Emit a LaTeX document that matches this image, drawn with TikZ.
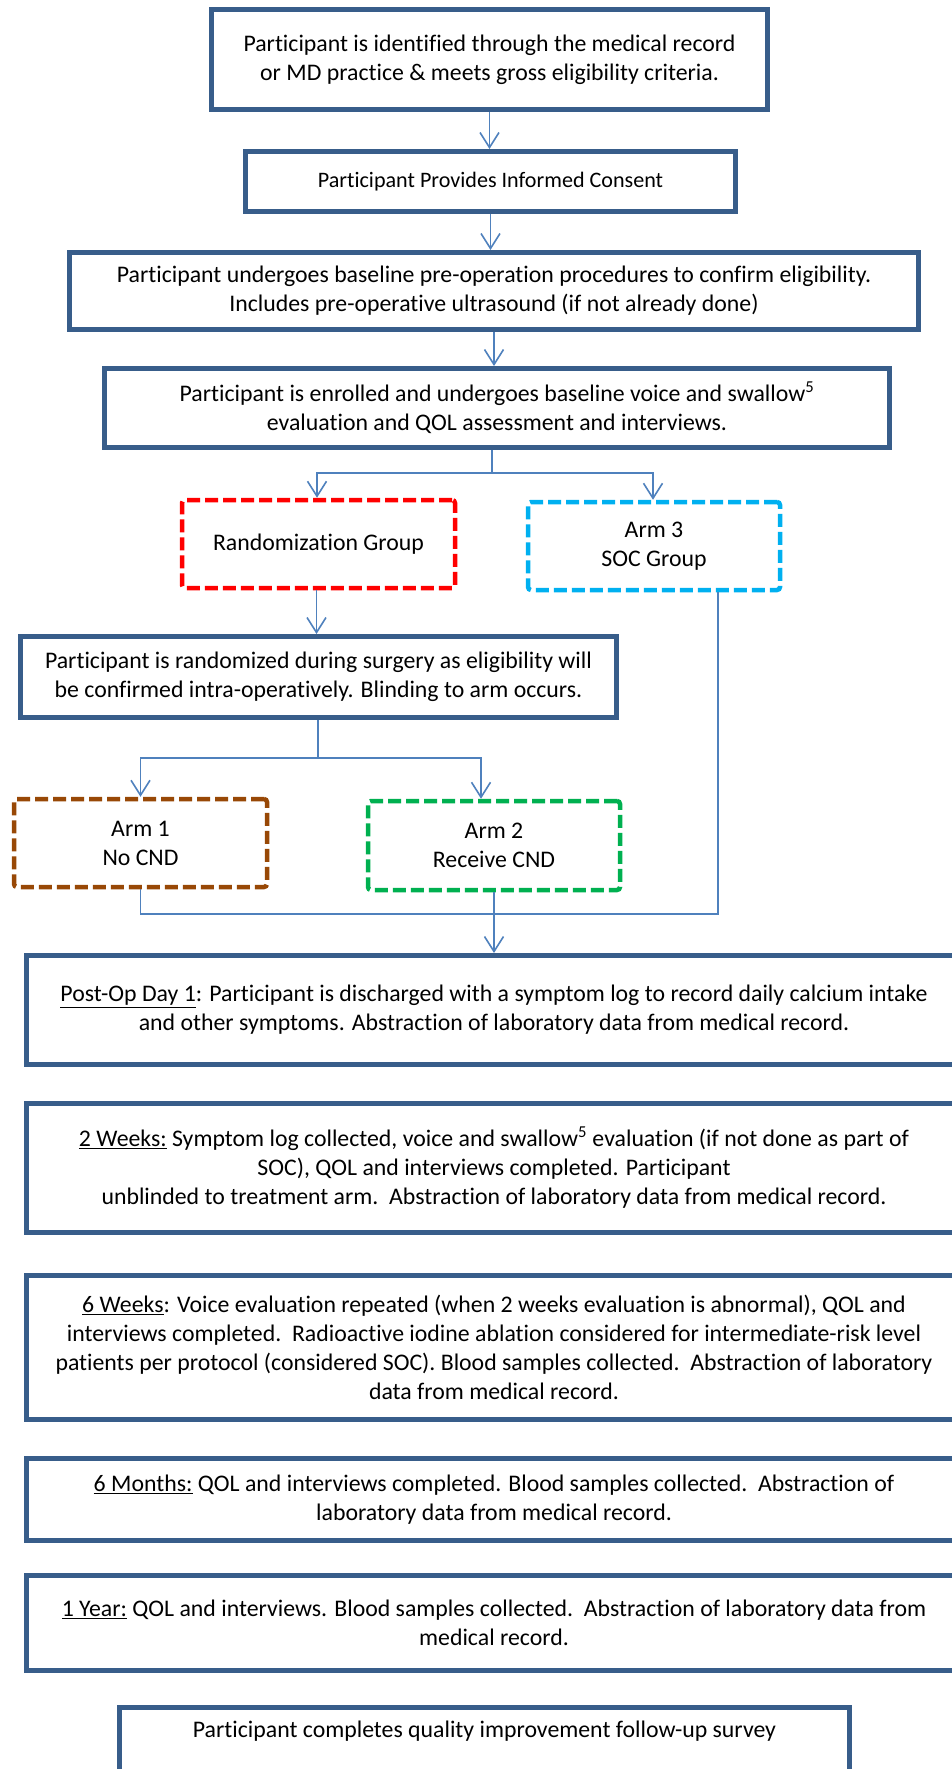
\documentclass[tikz,border=0pt]{standalone}
\usepackage{fontspec}
\setmainfont{Carlito}[Ligatures={NoCommon}]
\usetikzlibrary{arrows.meta,calc}
\definecolor{boxblue}{HTML}{385D8A}
\definecolor{linkblue}{HTML}{4F81BD}
\definecolor{dred}{HTML}{FF0000}
\definecolor{dcyan}{HTML}{00B0F0}
\definecolor{dgreen}{HTML}{00B050}
\definecolor{dbrown}{HTML}{984806}
\tikzset{
  bluebox/.style={draw=boxblue, line width=5pt, align=center, inner sep=0pt, fill=white,
    font=\fontsize{23.8}{29}\selectfont},
  dashbox/.style={line width=4.5pt, dash pattern=on 13pt off 5pt, rounded corners=3pt,
    align=center, inner sep=0pt, font=\fontsize{23.8}{29}\selectfont},
  conn/.style={draw=linkblue, line width=1.6pt, -{Straight Barb[length=15pt,width=19pt]}},
  link/.style={draw=linkblue, line width=1.6pt},
}
\begin{document}
\begin{tikzpicture}[x=1pt,y=-1pt]
\useasboundingbox[fill=white] (0,0) rectangle (952,1769);
\clip (0,0) rectangle (952,1769);
% main boxes
\node[bluebox, minimum width=556pt, minimum height=100pt] (b1) at (489.5,59.5)
  {Participant is identified through the medical record\\or MD practice \& meets gross eligibility criteria.};
\node[bluebox, minimum width=490pt, minimum height=60pt, font=\fontsize{22.1}{28}\selectfont] (b2) at (490.5,181.5)
  {Participant Provides Informed Consent};
\node[bluebox, minimum width=849pt, minimum height=77pt] (b3) at (494,291)
  {Participant undergoes baseline pre-operation procedures to confirm eligibility.\\Includes pre-operative ultrasound (if not already done)};
\node[bluebox, minimum width=785pt, minimum height=79pt] (b4) at (497,408)
  {Participant is enrolled and undergoes baseline voice and swallow\textsuperscript{5}\\evaluation and QOL assessment and interviews.};
% groups
\node[dashbox, draw=dred, minimum width=273pt, minimum height=88pt] (rg) at (318.5,544)
  {Randomization Group};
\node[dashbox, draw=dcyan, minimum width=252pt, minimum height=88pt] (a3) at (654,546)
  {Arm 3\\SOC Group};
\node[bluebox, minimum width=596pt, minimum height=81pt] (b5) at (318.5,677)
  {Participant is randomized during surgery as eligibility will\\be confirmed intra-operatively. Blinding to arm occurs.};
\node[dashbox, draw=dbrown, minimum width=253pt, minimum height=88pt] (a1) at (140.5,843)
  {Arm 1\\No CND};
\node[dashbox, draw=dgreen, minimum width=252pt, minimum height=89pt] (a2) at (494,845.5)
  {Arm 2\\Receive CND};
% timeline
\node[bluebox, minimum width=935pt, minimum height=109pt] (po) at (494,1010)
  {\underline{Post-Op Day 1}: Participant is discharged with a symptom log to record daily calcium intake\\and other symptoms. Abstraction of laboratory data from medical record.};
\node[bluebox, minimum width=935pt, minimum height=129pt] (w2) at (494,1168)
  {\underline{2 Weeks:} Symptom log collected, voice and swallow\textsuperscript{5} evaluation (if not done as part of\\SOC), QOL and interviews completed. Participant\\unblinded to treatment arm.\ \ Abstraction of laboratory data from medical record.};
\node[bluebox, minimum width=935pt, minimum height=144pt] (w6) at (494,1347.5)
  {\underline{6 Weeks}: Voice evaluation repeated (when 2 weeks evaluation is abnormal), QOL and\\interviews completed.\ \ Radioactive iodine ablation considered for intermediate-risk level\\patients per protocol (considered SOC). Blood samples collected.\ \ Abstraction of laboratory\\data from medical record.};
\node[bluebox, minimum width=935pt, minimum height=82pt] (m6) at (494,1499.5)
  {\underline{6 Months:} QOL and interviews completed. Blood samples collected.\ \ Abstraction of\\laboratory data from medical record.};
\node[bluebox, minimum width=935pt, minimum height=95pt] (y1) at (494,1623)
  {\underline{1 Year:} QOL and interviews. Blood samples collected.\ \ Abstraction of laboratory data from\\medical record.};
\node[bluebox, anchor=north, minimum width=730pt, text height=16pt, text depth=70pt, inner ysep=14pt] (qs) at (484.5,1705)
  {Participant completes quality improvement follow-up survey};
% connectors
\draw[conn] (b1.south) -- (b1.south |- b2.north);
\draw[conn] (b2.south) -- (b2.south |- b3.north);
\draw[conn] (b3.south) -- (b3.south |- b4.north);
\coordinate (j1) at (492,473);
\draw[link] (b4.south -| j1) -- (j1);
\draw[conn] (j1) -| ([xshift=-1.5pt]rg.north);
\draw[conn] (j1) -| ([xshift=-1pt]a3.north);
\draw[conn] ([xshift=-2pt]rg.south) -- ([xshift=-2pt]rg.south |- b5.north);
\coordinate (j2) at (318,758);
\draw[link] (b5.south -| j2) -- (j2);
\draw[conn] (j2) -| (a1.north);
\draw[conn] (j2) -| ([xshift=-13pt]a2.north);
\coordinate (j3) at (494,914);
\draw[link] (a1.south) |- (j3);
\draw[link] ([xshift=64pt]a3.south) |- (j3);
\draw[conn] (a2.south) -- (j3) -- (j3 |- po.north);
\end{tikzpicture}
\end{document}
